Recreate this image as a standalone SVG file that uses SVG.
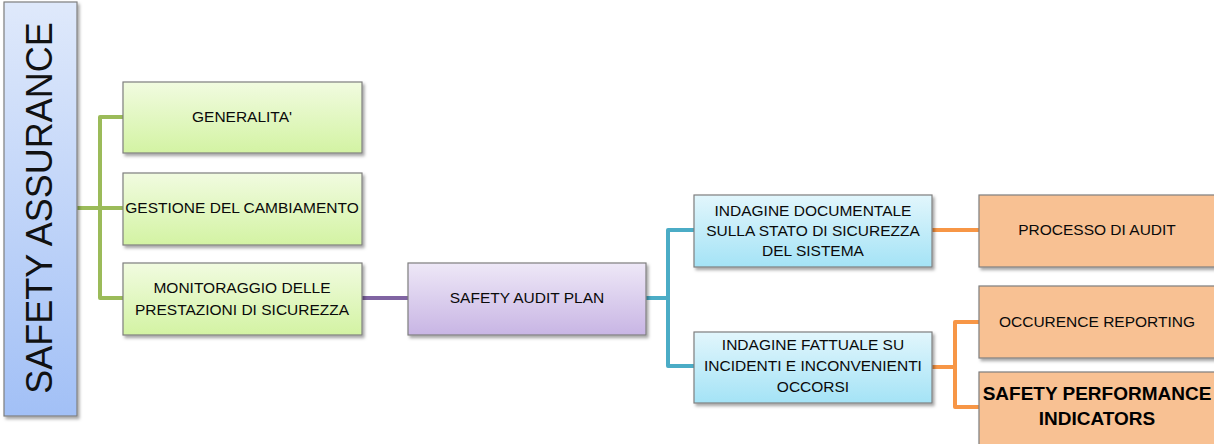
<svg xmlns="http://www.w3.org/2000/svg" width="1214" height="444" viewBox="0 0 1214 444">
  <defs>
    <linearGradient id="gBlue" x1="0" y1="0" x2="0" y2="1">
      <stop offset="0" stop-color="#dfe9fb"/>
      <stop offset="1" stop-color="#a2c0f6"/>
    </linearGradient>
    <linearGradient id="gGreen" x1="0" y1="0" x2="0" y2="1">
      <stop offset="0" stop-color="#f1fbe0"/>
      <stop offset="1" stop-color="#d3f3a3"/>
    </linearGradient>
    <linearGradient id="gPurple" x1="0" y1="0" x2="0" y2="1">
      <stop offset="0" stop-color="#eee8f7"/>
      <stop offset="1" stop-color="#c8b5e4"/>
    </linearGradient>
    <linearGradient id="gCyan" x1="0" y1="0" x2="0" y2="1">
      <stop offset="0" stop-color="#e2f6fc"/>
      <stop offset="1" stop-color="#a4e3f6"/>
    </linearGradient>
    <filter id="shadow" x="-10%" y="-10%" width="130%" height="130%">
      <feDropShadow dx="2" dy="2.5" stdDeviation="1.5" flood-color="#000" flood-opacity="0.35"/>
    </filter>
  </defs>
  <style>
    .box { stroke: #7f7f7f; stroke-width: 1.2; filter: url(#shadow); }
    .green { fill: url(#gGreen); }
    .purple { fill: url(#gPurple); }
    .cyan { fill: url(#gCyan); }
    .orange { fill: #f8c193; }
    .lbl { font-family: "Liberation Sans", Arial, sans-serif; font-size: 15.5px; fill: #0a0a0a; text-anchor: middle; }
    .big { font-family: "Liberation Sans", Arial, sans-serif; font-size: 19px; font-weight: bold; fill: #000; text-anchor: middle; }
    .conn { fill: none; stroke-width: 4; stroke-linejoin: round; stroke-linecap: butt; }
  </style>

  <rect width="1214" height="444" fill="#ffffff"/>

  <!-- connectors -->
  <g id="connectors">
    <path class="conn" stroke="#9bbb59" d="M77 208 H100 M123 117 H100 V298 H123 M100 208 H123"/>
    <path class="conn" stroke="#8064a2" d="M362 298 H408"/>
    <path class="conn" stroke="#4bacc6" d="M646 298 H668 M694 230 H668 V366 H694"/>
    <path class="conn" stroke="#f79646" d="M932 230 H979"/>
    <path class="conn" stroke="#f79646" d="M932 367 H955 M979 322 H955 V407 H979"/>
  </g>

  <!-- root -->
  <g id="safety-assurance">
    <rect class="box" x="4" y="2" width="73" height="414" fill="url(#gBlue)"/>
    <text transform="translate(52 208) rotate(-90)" font-family="'Liberation Sans', Arial, sans-serif" font-size="36" fill="#111" text-anchor="middle">SAFETY ASSURANCE</text>
  </g>

  <g id="generalita">
    <rect class="box green" x="123" y="82" width="239" height="71"/>
    <text class="lbl" x="242" y="122">GENERALITA'</text>
  </g>

  <g id="gestione-cambiamento">
    <rect class="box green" x="123" y="173" width="239" height="72"/>
    <text class="lbl" x="242" y="213">GESTIONE DEL CAMBIAMENTO</text>
  </g>

  <g id="monitoraggio">
    <rect class="box green" x="123" y="263" width="239" height="72"/>
    <text class="lbl" x="242" y="293">MONITORAGGIO DELLE</text>
    <text class="lbl" x="242" y="315">PRESTAZIONI DI SICUREZZA</text>
  </g>

  <g id="safety-audit-plan">
    <rect class="box purple" x="408" y="263" width="238" height="72"/>
    <text class="lbl" x="527" y="303">SAFETY AUDIT PLAN</text>
  </g>

  <g id="indagine-documentale">
    <rect class="box cyan" x="694" y="195" width="238" height="72"/>
    <text class="lbl" x="813" y="216">INDAGINE DOCUMENTALE</text>
    <text class="lbl" x="813" y="236">SULLA STATO DI SICUREZZA</text>
    <text class="lbl" x="813" y="256">DEL SISTEMA</text>
  </g>

  <g id="indagine-fattuale">
    <rect class="box cyan" x="694" y="332" width="238" height="71"/>
    <text class="lbl" x="813" y="350">INDAGINE FATTUALE SU</text>
    <text class="lbl" x="813" y="371">INCIDENTI E INCONVENIENTI</text>
    <text class="lbl" x="813" y="392">OCCORSI</text>
  </g>

  <g id="processo-audit">
    <rect class="box orange" x="979" y="195" width="240" height="72"/>
    <text class="lbl" x="1097" y="235">PROCESSO DI AUDIT</text>
  </g>

  <g id="occurence-reporting">
    <rect class="box orange" x="979" y="286" width="240" height="72"/>
    <text class="lbl" x="1097" y="327">OCCURENCE REPORTING</text>
  </g>

  <g id="safety-performance-indicators">
    <rect class="box orange" x="979" y="372" width="240" height="76"/>
    <text class="big" x="1097" y="400">SAFETY PERFORMANCE</text>
    <text class="big" x="1097" y="425">INDICATORS</text>
  </g>
</svg>
